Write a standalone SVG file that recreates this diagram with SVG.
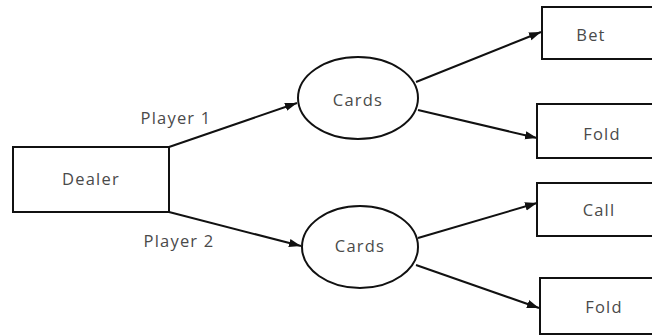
<svg xmlns="http://www.w3.org/2000/svg" width="652" height="336" viewBox="0 0 652 336">
<style>
.box{fill:#fff;stroke:#111;stroke-width:2}
.lbl{font-family:"Open Sans","Noto Sans",sans-serif;font-size:16.5px;letter-spacing:1.2px;fill:#4a4a4a;text-anchor:middle;dominant-baseline:central}
.edge{stroke:#111;stroke-width:2;fill:none;marker-end:url(#ah)}
</style>
<defs>
<marker id="ah" viewBox="0 0 10 10" refX="10" refY="5" markerWidth="6" markerHeight="6" markerUnits="strokeWidth" orient="auto">
<path d="M0,1.5 L10,5 L0,8.5 z" fill="#111"/>
</marker>
</defs>
<rect width="652" height="336" fill="#fff"/>
<g id="connectors">
<line class="edge" x1="169" y1="147" x2="297" y2="103"/>
<line class="edge" x1="169" y1="212" x2="301" y2="246"/>
<line class="edge" x1="416" y1="82" x2="541" y2="32"/>
<line class="edge" x1="418" y1="110" x2="537" y2="138"/>
<line class="edge" x1="418" y1="238" x2="537" y2="203"/>
<line class="edge" x1="416" y1="265" x2="539" y2="308"/>
<text class="lbl" x="176" y="117">Player 1</text>
<text class="lbl" x="179" y="240">Player 2</text>
</g>
<g id="dealer">
<rect class="box" x="13" y="147" width="156" height="65"/>
<text class="lbl" x="91" y="178">Dealer</text>
</g>
<g id="cards1">
<ellipse class="box" cx="358" cy="98" rx="60" ry="41"/>
<text class="lbl" x="358" y="99">Cards</text>
</g>
<g id="cards2">
<ellipse class="box" cx="360" cy="247" rx="58" ry="41"/>
<text class="lbl" x="360" y="245">Cards</text>
</g>
<g id="bet">
<rect class="box" x="542" y="7" width="120" height="52"/>
<text class="lbl" x="591" y="34">Bet</text>
</g>
<g id="fold1">
<rect class="box" x="537" y="104" width="125" height="54"/>
<text class="lbl" x="602" y="133">Fold</text>
</g>
<g id="call">
<rect class="box" x="537" y="183" width="125" height="53"/>
<text class="lbl" x="599" y="209">Call</text>
</g>
<g id="fold2">
<rect class="box" x="540" y="278" width="122" height="56"/>
<text class="lbl" x="604" y="306">Fold</text>
</g>
</svg>
